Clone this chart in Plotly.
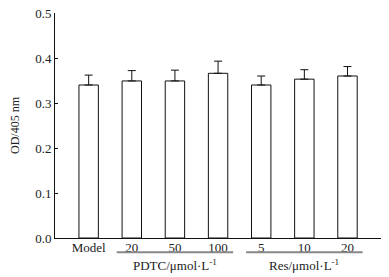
import plotly.graph_objects as go

categories = ["Model", "20", "50", "100", "5", "10", "20"]
values = [0.340, 0.349, 0.349, 0.366, 0.340, 0.353, 0.360]
errors = [0.022, 0.023, 0.024, 0.027, 0.020, 0.021, 0.021]
groups = ["PDTC/μmol·L<sup>-1</sup>", "Res/μmol·L<sup>-1</sup>"]
group_spans = [(1, 3), (4, 6)]
y_ticks = [0.0, 0.1, 0.2, 0.3, 0.4, 0.5]

xpos = list(range(len(categories)))
font = "Liberation Serif, Times New Roman, serif"

# the page body has an 8px margin; the figure is sized to fit the window
fig = go.Figure()
fig.add_trace(go.Bar(
    x=xpos, y=values, width=0.45,
    marker=dict(color="white", line=dict(color="#111", width=1)),
    error_y=dict(type="data", array=errors, arrayminus=[0]*len(errors),
                 symmetric=False, color="#111", thickness=1, width=4),
))

for (a, b), g in zip(group_spans, groups):
    fig.add_shape(type="line", xref="x", yref="paper",
                  x0=a - 0.35, x1=b + 0.35, y0=-0.063, y1=-0.063,
                  line=dict(color="#888", width=2))
    fig.add_annotation(x=(a + b) / 2, y=-0.118, xref="x", yref="paper",
                       text=g, showarrow=False, yanchor="middle",
                       font=dict(family=font, size=13, color="#222"))

fig.update_layout(
    width=381, height=269,
    margin=dict(l=47, r=7, t=5, b=39, autoexpand=False),
    plot_bgcolor="white", paper_bgcolor="white",
    showlegend=False,
    font=dict(family=font, size=13, color="#222"),
    xaxis=dict(range=[-0.78, 6.8], tickvals=xpos, ticktext=categories,
               showline=True, linecolor="#111", linewidth=1,
               ticks="", showgrid=False, zeroline=False, automargin=False,
               ticklabelstandoff=-3, ticklabeloverflow="allow",
               tickfont=dict(size=13)),
    yaxis=dict(range=[0, 0.5], tickvals=y_ticks,
               ticktext=[f"{v:.1f}" for v in y_ticks],
               showline=True, linecolor="#111", linewidth=1,
               ticks="inside", ticklen=3, tickcolor="#111",
               showgrid=False, zeroline=False, automargin=False,
               ticklabeloverflow="allow",
               tickfont=dict(size=13),
               title=dict(text="OD/405 nm", standoff=14,
                          font=dict(size=12))),
)

fig.write_html("out.html")
